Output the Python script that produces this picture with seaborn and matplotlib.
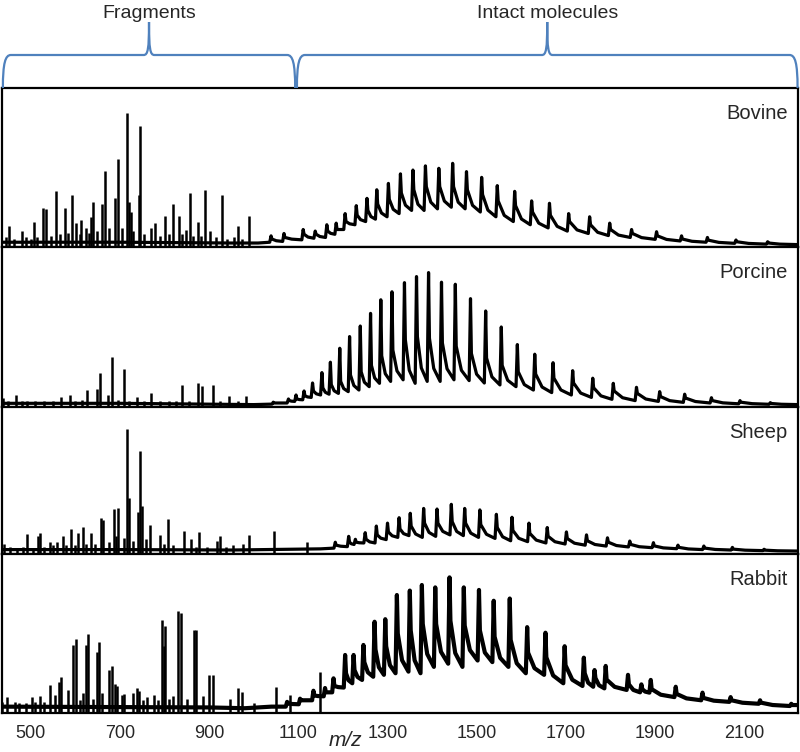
import numpy as np
import matplotlib
matplotlib.use("Agg")
import matplotlib.pyplot as plt
from matplotlib.path import Path
from matplotlib.patches import PathPatch
import pandas as pd
import seaborn as sns

# -----------------------------
# DATA (intensity in % of panel height)
# -----------------------------
species = ["Bovine", "Porcine", "Sheep", "Rabbit"]

# fragment sticks
bov_frag_mz = [445, 452, 462, 481, 490, 500, 508, 515, 528, 534, 545, 557, 565, 578, 585, 594, 602, 610,
               614, 624, 630, 635, 640, 650, 660, 667, 675, 689, 697, 705, 716, 720, 725, 730, 742, 745,
               755, 769, 779, 790, 801, 810, 820, 833, 840, 849, 858, 865, 875, 882, 892, 902, 915, 929,
               940, 955, 966, 975, 989]
bov_frag_h = [6, 13, 5, 10, 6, 5, 16, 6, 24.5, 24, 7, 35, 8, 24.5, 9, 33, 15, 8,
              17, 12, 9, 19, 28.5, 10, 27, 48, 12, 30.6, 55.5, 12, 84.5, 28, 22, 10, 33, 76,
              8, 12, 15, 7, 19.5, 8, 27, 19.5, 8, 11, 34, 7, 16, 7, 36, 10, 6, 32.7,
              5, 6, 13, 5, 19.5]
por_frag_mz = [438, 450, 467, 480, 492, 510, 530, 550, 568, 588, 600, 615, 627, 649, 656, 673, 682,
               695, 709, 720, 738, 755, 771, 790, 810, 825, 839, 855, 876, 884, 908, 925, 945, 965, 982]
por_frag_h = [5.4, 3.5, 7.5, 3.5, 3.5, 3.5, 4, 4, 6, 7.5, 4, 4.5, 10.6, 11, 21, 7.5, 31.5,
              4.5, 24, 4, 6, 4, 9, 3.5, 4, 4, 13.7, 4, 14.8, 13, 13.7, 3.5, 7, 3.5, 7]
shp_frag_mz = [440, 454, 470, 482, 493, 505, 516, 521, 530, 543, 550, 560, 573, 580, 590, 600, 607, 617,
               625, 635, 645, 658, 662, 675, 688, 691, 697, 710, 716, 720, 730, 740, 745, 749, 758, 768,
               789, 798, 807, 820, 845, 860, 870, 878, 895, 917, 925, 938, 953, 977, 989, 1046, 1119]
shp_frag_h = [7, 5, 4, 5, 13.4, 4, 12.3, 14, 5, 8.2, 6, 8, 12.3, 6, 17, 6, 14, 18.6,
              7, 14, 7, 24.7, 23, 8, 30.6, 12, 31, 11, 84.8, 38, 9, 28.8, 70, 32.9, 10, 19.7,
              13, 7, 23.6, 6, 15.6, 10, 5, 15, 5, 9, 12, 5, 6, 7, 12.7, 15.6, 8]
rab_frag_mz = [435, 448, 465, 475, 489, 504, 510, 521, 530, 543, 555, 564, 568, 584, 596, 602, 610, 617,
               624, 629, 640, 648, 653, 661, 676, 682, 689, 693, 704, 710, 729, 738, 744, 752, 760,
               777, 785, 794, 798, 801, 810, 820, 831, 838, 850, 866, 871, 887, 901, 908, 946, 964,
               974, 1000, 1051, 1082, 1148]
rab_frag_h = [7, 10, 7, 6, 6, 10, 7, 11, 7, 17.6, 11.5, 19.7, 22.4, 14.5, 42.8, 46.3, 8, 12.6,
              43, 49.7, 9, 38.6, 44.8, 12.6, 27, 29.6, 18, 16.8, 11.5, 12, 12.6, 15.7, 14, 8, 10,
              11.5, 8, 58.5, 42, 54.7, 9, 11, 64.4, 63, 9, 52.2, 52, 11, 23.9, 24, 9, 15.5,
              13, 6, 16.5, 11.5, 26]

# baseline under the fragment region: (m/z, level)
bov_base = [(436, 3.0), (700, 3.0), (950, 2.5), (1010, 2.5)]
por_base = [(436, 2.3), (700, 2.3), (900, 1.8), (1000, 1.5)]
shp_base = [(436, 3.0), (700, 3.0), (950, 2.7), (1150, 3.5)]
rab_base = [(436, 4.0), (900, 3.5), (980, 3.0), (1040, 4.0)]

# intact-molecule charge-state envelope: peak m/z, tip, body just after tip, valley before
bov_pk_mz = [1039, 1068, 1111, 1138, 1164, 1185, 1205, 1230, 1254, 1276, 1302, 1329, 1357, 1385, 1415,
             1446, 1477, 1511, 1546, 1585, 1623, 1663, 1706, 1753, 1798, 1847, 1903, 1959, 2017, 2081, 2152]
bov_pk_top = [7, 8.5, 11, 10, 14, 15, 21, 26, 30.6, 36, 40, 46, 48.4, 51, 49.5,
              52.6, 47.4, 43.8, 38.6, 35, 29, 27.5, 21, 19, 15, 11, 9.6, 7, 6, 4.4, 3.3]
bov_pk_body = [5, 6, 8, 8, 10, 11, 16, 20, 23, 27, 30, 34, 36, 38, 38,
               38, 36, 33, 29, 26, 22, 20, 16, 14, 11, 8.5, 7, 5, 4.3, 3.3, 2.5]
bov_pk_val = [3, 3.5, 4.5, 5.5, 6, 8, 11, 14, 16, 17.5, 19, 21, 23, 23, 24,
              25, 24, 22, 19, 16, 14, 12, 10, 8.5, 7.2, 6, 4.8, 3.8, 3, 2.3, 1.8]
bov_end = 1.5

por_pk_mz = [1044, 1078, 1095, 1113, 1132, 1153, 1172, 1193, 1215, 1239, 1262, 1285, 1310, 1338, 1365,
             1392, 1421, 1452, 1486, 1520, 1555, 1591, 1630, 1671, 1715, 1760, 1806, 1858, 1910, 1966,
             2026, 2090, 2158]
por_pk_top = [3, 5, 7.5, 10, 15, 21.5, 28, 36.7, 44, 50.6, 58.5, 67, 72, 77.7, 81.5,
              84, 78, 76.7, 67.7, 60, 50, 39, 33, 27.7, 22.7, 18, 14.8, 12.3, 9.6, 8,
              5.8, 4, 2.7]
por_pk_body = [2.5, 4, 5, 7, 10, 12, 14, 16, 20, 22, 26, 32, 35.6, 42, 44,
               43, 40, 38, 33.5, 30.6, 26, 22, 20.6, 18, 15, 12, 10, 8.5, 6.5, 5.6,
               4, 3, 2.2]
por_pk_val = [1.8, 2.5, 3.5, 4.5, 6, 7.5, 8, 8.5, 9.6, 10.6, 12.7, 14.8, 16, 17, 14.8,
              16, 16, 17, 16.5, 15, 13.8, 12.7, 10.6, 9, 7.5, 6, 4.8, 4, 3.5, 2.9,
              2.5, 2, 1.7]
por_end = 1.5

shp_pk_mz = [1183, 1213, 1228, 1250, 1275, 1300, 1326, 1351, 1381, 1411, 1443, 1473, 1507, 1544, 1579,
             1617, 1658, 1701, 1746, 1793, 1843, 1896, 1951, 2009, 2073, 2144]
shp_pk_top = [8, 12, 10, 14.5, 19, 21, 24.7, 27.7, 31, 30.6, 33.8, 31, 30, 27, 25,
              21, 18, 15, 13, 11, 8.8, 7.7, 6, 5.4, 4.5, 3.2]
shp_pk_body = [6, 8, 8, 10, 13, 15, 17, 19, 21, 21, 22, 21, 20, 18, 16,
               14, 12, 10.5, 9, 8, 6.5, 5.5, 4.5, 4, 3.3, 2.6]
shp_pk_val = [4, 5, 6.5, 7.5, 7.5, 9.8, 11.3, 12.5, 11.3, 12, 13, 12.5, 11.3, 10.6, 9,
              8.4, 7.5, 6.8, 6, 5.4, 4.8, 4.3, 3.6, 3, 2.7, 2.3]
shp_end = 2.0

rab_pk_mz = [1075, 1104, 1134, 1160, 1179, 1205, 1224, 1246, 1271, 1295, 1321, 1350, 1377, 1407, 1439,
             1471, 1505, 1538, 1574, 1613, 1654, 1697, 1740, 1764, 1789, 1839, 1869, 1890, 1946, 2006,
             2069, 2135, 2205]
rab_pk_top = [7, 9, 14, 15.7, 21.8, 36.5, 36.5, 42.8, 57.4, 59, 74.2, 77, 80.5, 79, 85.3,
              79, 77.4, 70.6, 72, 54, 50.5, 42, 34.8, 27, 29.6, 24, 18, 20.8, 16.5, 12.8,
              10, 8, 5.8]
rab_pk_body = [6, 8, 11, 13, 17, 25, 27, 32, 40, 42, 50, 52, 56, 56, 58,
               55, 52, 48, 46, 38, 35, 30, 25, 22, 21, 18, 15, 15, 12, 9.5,
               8, 6.5, 5]
rab_pk_val = [4, 5.5, 8, 10.5, 13, 16, 18.7, 20.8, 22.8, 24, 25, 26, 25, 29, 31,
              29, 33, 32, 29, 25, 24, 18.7, 17, 16.5, 15.5, 14.5, 13, 12.8, 10, 8,
              7, 5.8, 4.4]
rab_end = 5.0

frag_mz = [bov_frag_mz, por_frag_mz, shp_frag_mz, rab_frag_mz]
frag_h = [bov_frag_h, por_frag_h, shp_frag_h, rab_frag_h]
base = [bov_base, por_base, shp_base, rab_base]
pk_mz = [bov_pk_mz, por_pk_mz, shp_pk_mz, rab_pk_mz]
pk_top = [bov_pk_top, por_pk_top, shp_pk_top, rab_pk_top]
pk_body = [bov_pk_body, por_pk_body, shp_pk_body, rab_pk_body]
pk_val = [bov_pk_val, por_pk_val, shp_pk_val, rab_pk_val]
end_lvl = [bov_end, por_end, shp_end, rab_end]
trace_lw = [2.3, 2.3, 2.3, 3.0]

xticks = list(range(500, 2201, 100))
xlabels = [str(t) if (t // 100) % 2 == 1 else "" for t in xticks]

# -----------------------------
# PLOT
# -----------------------------
sns.set_style("white")
plt.rcParams["font.family"] = ["Liberation Sans", "DejaVu Sans"]

XMIN, XMAX = 436, 2220
W, H = 800, 752
top_px, bot_px = 88, 713
heights = [159, 160, 147, 159]

fig = plt.figure(figsize=(W / 100, H / 100), dpi=100)
gs = fig.add_gridspec(4, 1, height_ratios=heights, hspace=0,
                      left=2 / W, right=798 / W, top=1 - top_px / H, bottom=1 - bot_px / H)

ink = "black"
for i, name in enumerate(species):
    ax = fig.add_subplot(gs[i])

    # trace: baseline, then each charge-state peak (steep rise, tip, fast drop, slow tail)
    tx = [p[0] for p in base[i]]
    ty = [p[1] for p in base[i]]
    mzs, tops, bodies, vals = pk_mz[i], pk_top[i], pk_body[i], pk_val[i]
    for k, (m, t, b, v) in enumerate(zip(mzs, tops, bodies, vals)):
        tx += [m - 3, m, m + 2]
        ty += [v, t, b]
        if k + 1 < len(mzs):
            nm, nv = mzs[k + 1], vals[k + 1]
        else:
            nm, nv = XMAX, end_lvl[i]
        tx.append(m + 0.4 * (nm - m))
        ty.append(nv + 0.3 * (b - nv))
    tx.append(XMAX)
    ty.append(end_lvl[i])
    trace = pd.DataFrame({"mz": tx, "intensity": ty})
    sns.lineplot(data=trace, x="mz", y="intensity", sort=False, estimator=None,
                 color=ink, linewidth=trace_lw[i], ax=ax)

    # fragment sticks
    ax.vlines(frag_mz[i], 0, frag_h[i], color=ink, linewidth=1.8)

    ax.set_xlim(XMIN, XMAX)
    ax.set_ylim(0, 100)
    ax.set_yticks([])
    ax.set_ylabel("")
    ax.set_xlabel("")
    for s in ax.spines.values():
        s.set_color(ink)
        s.set_linewidth(1.6)
    ax.text(0.987, 1 - 16 / heights[i], name, transform=ax.transAxes,
            ha="right", va="top", fontsize=14.5)

    if i < 3:
        ax.set_xticks([])
    else:
        ax.set_xticks(xticks)
        ax.set_xticklabels(xlabels, fontsize=13)
        ax.tick_params(axis="x", direction="out", length=4, width=1.2, pad=5, color=ink)

fig.text(345 / W, 1 - 741 / H, "m/z", style="italic", ha="center", va="center", fontsize=15)

# -----------------------------
# BRACES ABOVE THE PANELS
# -----------------------------
bax = fig.add_axes([2 / W, 1 - top_px / H, 796 / W, (top_px - 2) / H])
bax.set_xlim(XMIN, XMAX)
bax.set_ylim(top_px, 2)
bax.axis("off")

brace_groups = ["Fragments", "Intact molecules"]
brace_start = [438, 1097]
brace_stop = [1093, 2219]
blue = "#4F81BD"


def brace(ax, a, b, low=88, level=55, tip=22, r_end=18, r_tip=12):
    m = (a + b) / 2
    verts = [(a, low), (a, level + 8), (a + r_end * 0.3, level), (a + r_end, level),
             (m - r_tip, level),
             (m - r_tip * 0.2, level), (m, level - 6), (m, tip),
             (m, level - 6), (m + r_tip * 0.2, level), (m + r_tip, level),
             (b - r_end, level),
             (b - r_end * 0.3, level), (b, level + 8), (b, low)]
    codes = [Path.MOVETO, Path.CURVE4, Path.CURVE4, Path.CURVE4,
             Path.LINETO,
             Path.CURVE4, Path.CURVE4, Path.CURVE4,
             Path.CURVE4, Path.CURVE4, Path.CURVE4,
             Path.LINETO,
             Path.CURVE4, Path.CURVE4, Path.CURVE4]
    ax.add_patch(PathPatch(Path(verts, codes), fill=False, edgecolor=blue, linewidth=1.6,
                           clip_on=False))
    return m


for label, a, b in zip(brace_groups, brace_start, brace_stop):
    m = brace(bax, a, b)
    bax.text(m, 13, label, ha="center", va="center", fontsize=14)

fig.savefig("out.png", dpi=100)
